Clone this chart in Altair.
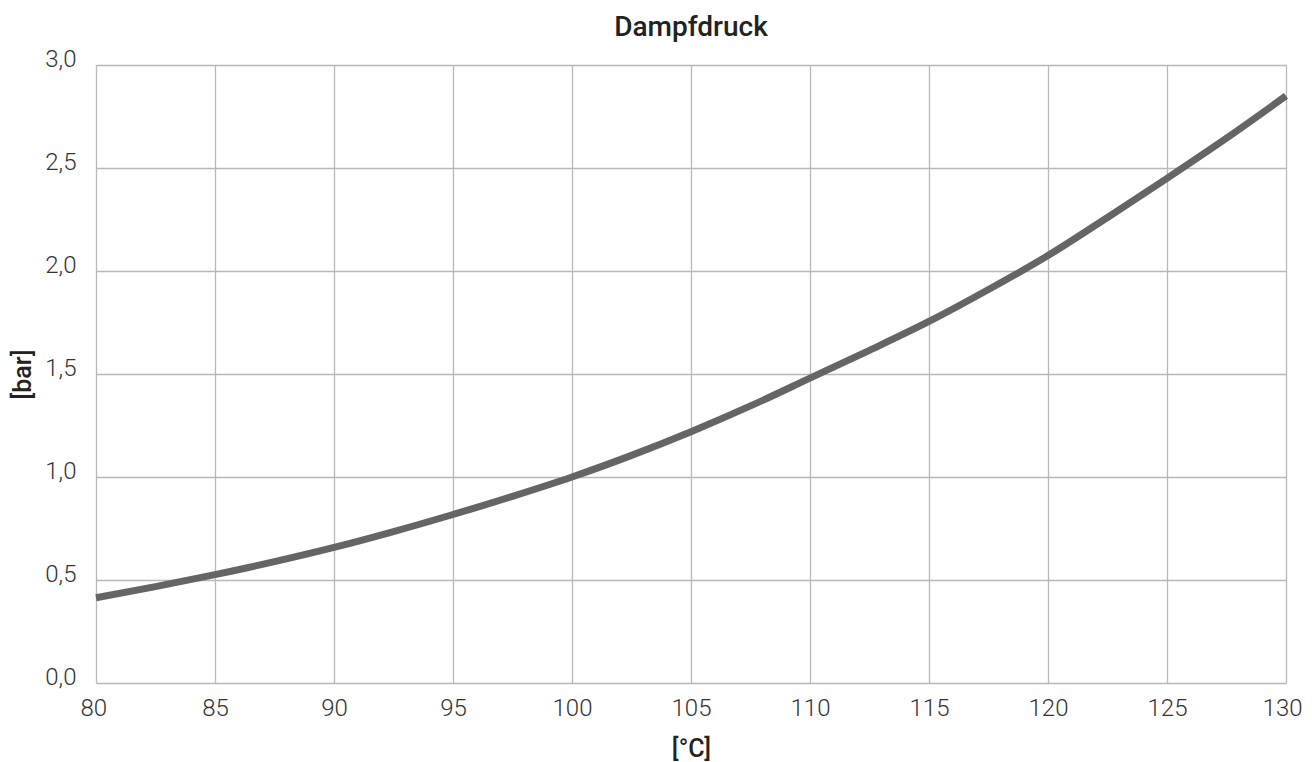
import altair as alt
import pandas as pd

temperature = [80, 82.5, 85, 87.5, 90, 92.5, 95, 97.5, 100, 102.5, 105, 107.5,
               110, 112.5, 115, 117.5, 120, 122.5, 125, 127.5, 130]
pressure = [0.414, 0.468, 0.526, 0.589, 0.658, 0.735, 0.818, 0.906, 1.0, 1.105,
            1.22, 1.345, 1.48, 1.615, 1.755, 1.91, 2.075, 2.26, 2.45, 2.645, 2.85]
x_ticks = [80, 85, 90, 95, 100, 105, 110, 115, 120, 125, 130]
y_ticks = [0.0, 0.5, 1.0, 1.5, 2.0, 2.5, 3.0]

df = pd.DataFrame({"t": temperature, "p": pressure})

FONT = "Roboto"

chart = alt.Chart(df).mark_line(
    color="#656565", strokeWidth=7, interpolate="monotone", strokeCap="butt"
).encode(
    x=alt.X("t:Q", scale=alt.Scale(domain=[80, 130], nice=False, zero=False),
            axis=alt.Axis(values=x_ticks, title="[°C]", grid=True, domain=False, ticks=False,
                          labelFlush=True, labelFlushOffset=16,
                          labelPadding=13, labelFontSize=24, labelFontWeight=300,
                          labelColor="#333333", labelFont=FONT,
                          titleFont=FONT, titleFontSize=25, titleFontWeight=500,
                          titleColor="#222222", titleY=65, titleBaseline="middle")),
    y=alt.Y("p:Q", scale=alt.Scale(domain=[0, 3], nice=False),
            axis=alt.Axis(values=y_ticks, title="[bar]", grid=True, domain=False, ticks=False,
                          labelFlush=False,
                          labelExpr="replace(format(datum.value, '.1f'), '.', ',')",
                          labelPadding=20, labelFontSize=24, labelFontWeight=300,
                          labelColor="#333333", labelFont=FONT,
                          labelBaseline="middle", labelOffset=-6,
                          titleFont=FONT, titleFontSize=25, titleFontWeight=500,
                          titleColor="#222222", titleX=-74, titleBaseline="middle")),
).properties(
    width=1190,
    height=618,
    title=alt.TitleParams("Dampfdruck", font=FONT, fontSize=28, fontWeight=500,
                          color="#222222", anchor="middle", baseline="alphabetic",
                          offset=14, dy=31),
    autosize=alt.AutoSizeParams(type="none"),
    padding={"left": 88, "top": 57, "right": 18, "bottom": 82},
).configure_axis(
    gridColor="#b8b8b8", gridWidth=1.3, gridOpacity=1,
).configure_view(
    stroke=None
)

chart.save("out.html", embed_options={"renderer": "svg", "actions": False})
